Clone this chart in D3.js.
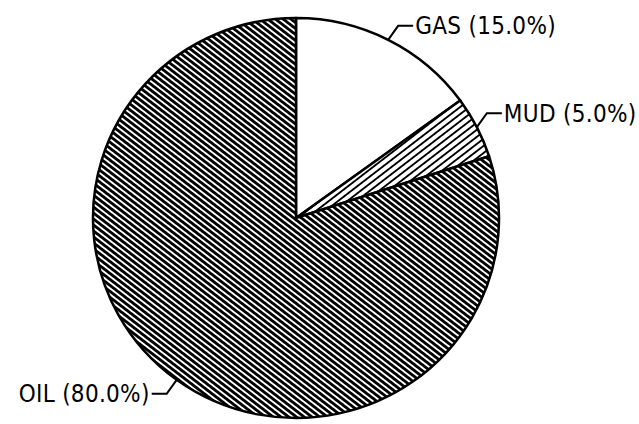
<!DOCTYPE html>
<html>
<head>
<meta charset="utf-8">
<script src="https://cdn.jsdelivr.net/npm/d3@7"></script>
<style>
  body { margin: 0; background: #fff; }
  text { font-family: "DejaVu Sans Condensed", "DejaVu Sans", sans-serif; }
</style>
</head>
<body>
<div id="svganchor"></div>
<script>
let width = 639;
let height = 424;

// data
let categories = ["GAS", "MUD", "OIL"];
let shares = [15.0, 5.0, 80.0];
let fills = ["white", "url(#hatchMud)", "url(#hatchOil)"];

let cx = 296, cy = 218;
let radius = 200;
let stretchX = 1.015;

let svg = d3.select("#svganchor")
    .append("svg")
    .attr("width", width)
    .attr("height", height);

let defs = svg.append("defs");

// sparse thin hatch for MUD
let pMud = defs.append("pattern")
    .attr("id", "hatchMud")
    .attr("patternUnits", "userSpaceOnUse")
    .attr("width", 5.6).attr("height", 5.6)
    .attr("patternTransform", "rotate(-38)");
pMud.append("rect").attr("width", 5.6).attr("height", 5.6).attr("fill", "white");
pMud.append("rect")
    .attr("x", 0).attr("y", 0).attr("width", 5.6).attr("height", 1.5)
    .attr("fill", "black")
    .attr("shape-rendering", "crispEdges");

// dense heavy hatch for OIL
let pOil = defs.append("pattern")
    .attr("id", "hatchOil")
    .attr("patternUnits", "userSpaceOnUse")
    .attr("width", 4.7).attr("height", 4.7)
    .attr("patternTransform", "rotate(38)");
pOil.append("rect").attr("width", 4.7).attr("height", 4.7).attr("fill", "white");
pOil.append("rect")
    .attr("x", 0).attr("y", 0).attr("width", 4.7).attr("height", 2.8)
    .attr("fill", "black")
    .attr("shape-rendering", "crispEdges");

let pie = d3.pie().sort(null).value(d => d.value);
let arc = d3.arc().innerRadius(0).outerRadius(radius);

let data = categories.map((c, i) => ({name: c, value: shares[i], fill: fills[i]}));
let arcs = pie(data);

let g = svg.append("g")
    .attr("transform", "translate(" + cx + "," + cy + ") scale(" + stretchX + ",1)");

g.selectAll("path.slice")
    .data(arcs)
    .enter()
    .append("path")
    .attr("class", "slice")
    .attr("d", arc)
    .attr("fill", d => d.data.fill)
    .attr("stroke", "black")
    .attr("stroke-width", 2.5)
    .attr("stroke-linejoin", "round");

// leader lines and labels
arcs.forEach(function(d) {
    let mid = (d.startAngle + d.endAngle) / 2;
    let x0 = cx + stretchX * radius * Math.sin(mid);
    let y0 = cy - radius * Math.cos(mid);
    let right = Math.sin(mid) >= 0;
    let dir = right ? 1 : -1;
    let x1 = x0 + dir * 10;
    let y1 = y0 + (Math.cos(mid) >= 0 ? -14 : 14);
    let x2 = x1 + dir * 15;

    svg.append("path")
        .attr("d", d3.line()([[x0, y0], [x1, y1], [x2, y1]]))
        .attr("fill", "none")
        .attr("stroke", "black")
        .attr("stroke-width", 2);

    svg.append("text")
        .attr("x", x2 + dir * 2)
        .attr("y", y1)
        .attr("dy", "0.36em")
        .attr("text-anchor", right ? "start" : "end")
        .attr("font-size", 24)
        .attr("letter-spacing", 0.3)
        .text(d.data.name + " (" + d.data.value.toFixed(1) + "%)");
});
</script>
</body>
</html>
